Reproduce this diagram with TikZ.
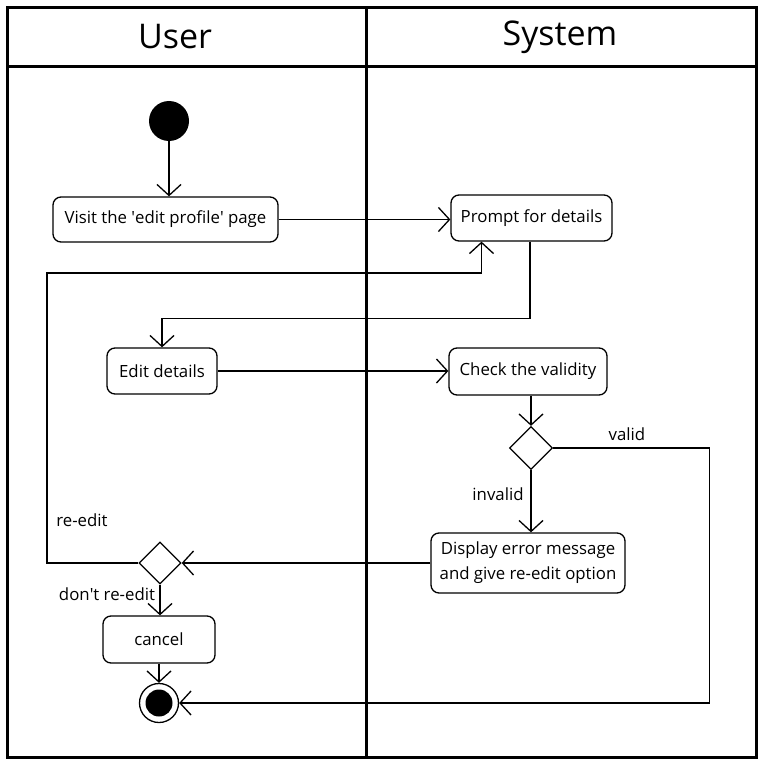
\documentclass[tikz,border=0pt]{standalone}
\usepackage{fontspec}
\setmainfont{Open Sans}
\usetikzlibrary{arrows.meta,shapes.geometric}

\begin{document}
\begin{tikzpicture}[x=1pt, y=-1pt,
    act/.style={draw, rounded corners=8pt, line width=1.3pt, inner sep=0pt,
        align=center, font=\fontsize{16.8}{25}\selectfont},
    decision/.style={draw, diamond, aspect=1, inner sep=0pt, line width=1.3pt},
    flow/.style={line width=1.3pt, -{Straight Barb[length=11pt, width=24pt, line width=1.3pt]}},
    lbl/.style={font=\fontsize{16.8}{20}\selectfont},
    title/.style={font=\fontsize{34}{40}\selectfont}]
    \useasboundingbox (0,0) rectangle (763,765);
    % swimlanes
    \draw[line width=3pt] (7,8) rectangle (756,757);
    \draw[line width=3pt] (366,8) -- (366,757);
    \draw[line width=3pt] (7,67) -- (756,67);
    \node(user)[title] at (175,37) {User};
    \node(system)[title] at (560,37) {System};
    % actions
    \node(start)[circle, fill, minimum size=40pt, inner sep=0pt] at (169,121) {};
    \node(visit)[act, minimum width=225pt, minimum height=45pt] at (165.5,219.5) {Visit the \textquotesingle edit profile\textquotesingle\ page};
    \node(prompt)[act, minimum width=161pt, minimum height=46pt] at (531.5,218) {Prompt for details};
    \node(edit)[act, minimum width=110pt, minimum height=46pt] at (162,371) {Edit details};
    \node(check)[act, minimum width=158pt, minimum height=47pt] at (528,371.5) {Check the validity};
    \node(d1)[decision, minimum size=43pt] at (531,448) {};
    \node(err)[act, minimum width=194pt, minimum height=60pt] at (528,563) {Display error message\\and give re-edit option};
    \node(d2)[decision, minimum size=42pt] at (160,563) {};
    \node(cancel)[act, minimum width=112pt, minimum height=47pt] at (159,639.5) {cancel};
    \node(end)[draw, circle, line width=1.3pt, minimum size=39pt, inner sep=0pt] at (159,703) {};
    \fill (end.center) circle (13.5pt);
    \coordinate(back) at (47,273);
    % flows
    \draw[flow] (start) -- (start |- visit.north);
    \draw[flow] (visit.east) -- (visit.east -| prompt.west);
    \draw[flow] ([xshift=-1.5pt]prompt.south) -- ++(0,77) -| (edit.north);
    \draw[flow] (edit.east) -- (edit.east -| check.west);
    \draw[flow] (check.south -| d1.north) -- (d1.north);
    \draw[flow] (d1.south) -- (d1.south |- err.north);
    \draw[flow] (d1.east) -- ++(156,0) |- (end.east);
    \draw[flow] (err.west) -- (err.west -| d2.east);
    \draw[flow] (d2.west) -| (back) -| ([xshift=-50pt]prompt.south);
    \draw[flow] (d2.south) -- (d2.south |- cancel.north);
    \draw[flow] (cancel.south) -- (end.north);
    % guards
    \node(valid)[lbl] at (627,434) {valid};
    \node(invalid)[lbl] at (498,494) {invalid};
    \node(reedit)[lbl] at (82,520) {re-edit};
    \node(noedit)[lbl] at (107,594) {don\textquotesingle t re-edit};
\end{tikzpicture}
\end{document}
